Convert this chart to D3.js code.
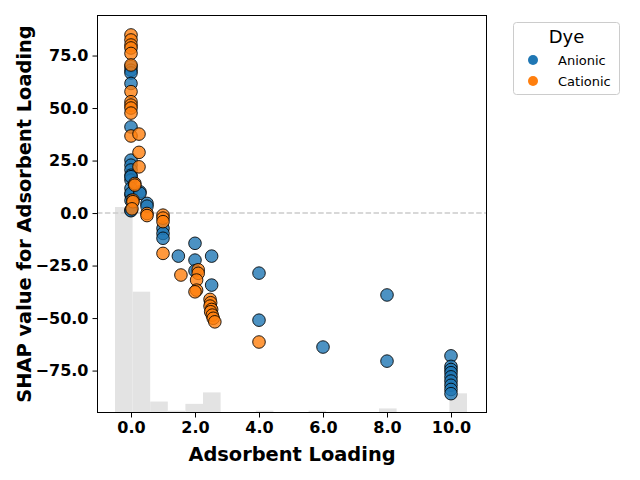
<!DOCTYPE html>
<html>
<head>
<meta charset="utf-8">
<script src="https://cdn.jsdelivr.net/npm/d3@7"></script>
<style>
  body { margin: 0; background: #fff; }
  text { font-family: "DejaVu Sans", sans-serif; }
</style>
</head>
<body>
<svg id="chart" width="640" height="480"></svg>
<script>
// scatter values
const anionicLoading = [0, 0, 0, 0, 0, 0, 0, 0, 0, 0, 0, 0, 0, 0, 0, 0, 0,
  0.28, 0.28, 0.5, 0.5, 1.0, 1.0, 1.0, 1.48, 2.0, 2.0, 2.0, 2.52, 2.52,
  4.0, 4.0, 6.0, 8.0, 8.0, 10, 10, 10, 10, 10, 10, 10, 10, 10]
const anionicShap = [69.7, 68, 66.7, 61.7, 41, 25.2, 22.8, 20.5, 18, 15.7, 17.3, 11.8, 8.6, 9.4, 6.0, 1.4, 1.1,
  10.1, 9.4, 4.6, 3.3, -7.3, -9.7, -12, -20.5, -14.4, -22.4, -27.5, -20.5, -34.3,
  -28.6, -51, -63.8, -39, -70.5, -68, -73, -74.5, -76, -78, -80, -82, -84, -86]

const cationicLoading = [0, 0, 0, 0, 0, 0, 0, 0, 0, 0, 0, 0,
  0.25, 0.25, 0.25, 0.12, 0.12, 0.06, 0.06, 0.03, 0.5, 0.5,
  1.0, 1.0, 1.0, 1.0, 1.56, 2.1, 2.1, 2.05, 2.05, 2.0,
  2.47, 2.49, 2.47, 2.52, 2.49, 2.54, 2.57, 2.62, 4.0]
const cationicShap = [84.8, 82.4, 80, 78.6, 76, 70.5, 57.8, 53, 51.4, 50, 47.6, 36.7,
  37.6, 28.9, 22, 14.1, 13.3, 6.2, 5.4, 2.0, -0.2, -1.2,
  -1, -2.4, -4.1, -19.2, -29.5, -27, -28.7, -31.9, -36.7, -37.5,
  -41.1, -42.7, -44.3, -45.9, -47, -48.6, -50.1, -51.8, -61.4]

// histogram of loading, 20 bins from -0.5 to 10.5
const histStart = -0.5
const histBinWidth = 0.55
const histCounts = [90, 53, 5, 1, 4, 9, 0, 0, 1, 0, 0, 1, 0, 0, 0, 2, 0, 0, 0, 8.6]

const xTicks = [0, 2, 4, 6, 8, 10]
const yTicks = [-75, -50, -25, 0, 25, 50, 75]
const dyes = ["Anionic", "Cationic"]
const dyeColors = ["#1f77b4", "#ff7f0e"]

const plotLeft = 97, plotRight = 487, plotTop = 15, plotBottom = 413

const svg = d3.select("#chart")

const x = d3.scaleLinear().domain([-1.0625, 11.125]).range([plotLeft, plotRight])
const y = d3.scaleLinear().domain([-95.2, 94.3]).range([plotBottom, plotTop])
const h = d3.scaleLinear().domain([0, 90]).range([0, 206])

const color = d3.scaleOrdinal().domain(dyes).range(dyeColors)

// histogram bars
svg.append("g")
  .selectAll("rect")
  .data(histCounts)
  .join("rect")
  .attr("x", (d, i) => x(histStart + i * histBinWidth))
  .attr("width", x(histBinWidth) - x(0))
  .attr("y", d => plotBottom - h(d))
  .attr("height", d => h(d))
  .attr("fill", "#e3e3e3")

// zero line
svg.append("line")
  .attr("x1", plotLeft).attr("x2", plotRight)
  .attr("y1", y(0)).attr("y2", y(0))
  .attr("stroke", "#cccccc")
  .attr("stroke-width", 1.5)
  .attr("stroke-dasharray", "5.5,2.4")

const points = anionicLoading.map((v, i) => ({x: v, y: anionicShap[i], dye: "Anionic"}))
  .concat(cationicLoading.map((v, i) => ({x: v, y: cationicShap[i], dye: "Cationic"})))

svg.append("g")
  .selectAll("circle")
  .data(points)
  .join("circle")
  .attr("cx", d => x(d.x))
  .attr("cy", d => y(d.y))
  .attr("r", 6.3)
  .attr("fill", d => color(d.dye))
  .attr("fill-opacity", 0.8)
  .attr("stroke", "black")
  .attr("stroke-opacity", 0.85)
  .attr("stroke-width", 1)

// axes
const xAxis = svg.append("g")
  .attr("transform", `translate(0,${plotBottom})`)
  .call(d3.axisBottom(x).tickValues(xTicks).tickFormat(d3.format(".1f")).tickSize(4.5).tickPadding(4).tickSizeOuter(0))
const yAxis = svg.append("g")
  .attr("transform", `translate(${plotLeft},0)`)
  .call(d3.axisLeft(y).tickValues(yTicks).tickFormat(d3.format(".1f")).tickSize(4.5).tickPadding(4).tickSizeOuter(0))

for (const ax of [xAxis, yAxis]) {
  ax.select(".domain").remove()
  ax.selectAll("text")
    .attr("font-family", "DejaVu Sans")
    .attr("font-size", 16)
    .attr("font-weight", "bold")
    .attr("fill", "black")
  ax.selectAll("line").attr("stroke", "black")
}

svg.append("rect")
  .attr("x", plotLeft + 0.5).attr("y", plotTop + 0.5)
  .attr("width", plotRight - plotLeft - 1).attr("height", plotBottom - plotTop - 1)
  .attr("fill", "none")
  .attr("stroke", "black")
  .attr("stroke-width", 1)

svg.append("text")
  .attr("x", (plotLeft + plotRight) / 2).attr("y", 461)
  .attr("text-anchor", "middle")
  .attr("font-size", 19.4)
  .attr("font-weight", "bold")
  .text("Adsorbent Loading")

svg.append("text")
  .attr("transform", `translate(31,${(plotTop + plotBottom) / 2}) rotate(-90)`)
  .attr("text-anchor", "middle")
  .attr("font-size", 19.4)
  .attr("font-weight", "bold")
  .text("SHAP value for Adsorbent Loading")

// legend
const legend = svg.append("g")
legend.append("rect")
  .attr("x", 513.5).attr("y", 22.5)
  .attr("width", 106).attr("height", 72)
  .attr("rx", 3)
  .attr("fill", "white").attr("fill-opacity", 0.8)
  .attr("stroke", "#cccccc")
legend.append("text")
  .attr("x", 566.5).attr("y", 43)
  .attr("text-anchor", "middle")
  .attr("font-size", 18)
  .text("Dye")
legend.selectAll(".item")
  .data(dyes)
  .join("g")
  .attr("class", "item")
  .attr("transform", (d, i) => `translate(0,${60 + i * 21})`)
  .each(function (d) {
    const g = d3.select(this)
    g.append("circle").attr("cx", 533).attr("cy", 0).attr("r", 5).attr("fill", color(d))
    g.append("text").attr("x", 558).attr("y", 4.6).attr("font-size", 13).text(d)
  })
</script>
</body>
</html>
